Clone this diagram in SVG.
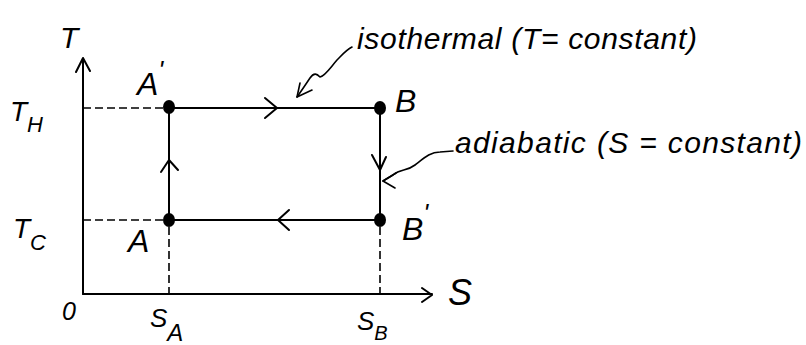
<svg xmlns="http://www.w3.org/2000/svg" width="806" height="345" viewBox="0 0 806 345">
<style>
.ln{stroke:#000;stroke-width:2;fill:none;stroke-linecap:round;stroke-linejoin:round}
.ds{stroke:#000;stroke-width:1.6;fill:none;stroke-dasharray:8 4}
.th{stroke:#000;stroke-width:1.6;fill:none;stroke-linecap:round;stroke-linejoin:round}
.dot{fill:#000}
text{font-family:"Liberation Sans",Arial,sans-serif;font-style:italic;fill:#000}
</style>
<rect width="806" height="345" fill="#fff"/>
<g id="axes">
<path class="ln" d="M83 294 V58 M76 72 L83 58 L90 71"/>
<path class="ln" d="M83 294 H432 M422 288 L432 295 L422 302"/>
<text x="60" y="48" font-size="30">T</text>
<text x="448" y="305" font-size="36">S</text>
<text x="62" y="320" font-size="25">0</text>
</g>
<g id="guides">
<path class="ds" d="M83 108 H163"/>
<path class="ds" d="M83 220 H163"/>
<path class="ds" d="M169 227 V294"/>
<path class="ds" d="M380 227 V294"/>
<text x="10" y="121" font-size="28">T<tspan font-size="22" dy="11">H</tspan></text>
<text x="13" y="238" font-size="28">T<tspan font-size="22" dy="12">C</tspan></text>
<text x="150" y="327" font-size="26">S<tspan font-size="24" dy="14">A</tspan></text>
<text x="357" y="330" font-size="26">S<tspan font-size="20" dy="10">B</tspan></text>
</g>
<g id="connectors">
<path class="ln" d="M169 108 H380"/>
<path class="ln" d="M265 98 L277 108 L265 118"/>
<path class="ln" d="M380 108 V220"/>
<path class="ln" d="M372 155 L380 170 L386 157"/>
<path class="ln" d="M380 220 H169"/>
<path class="ln" d="M289 210 L278 220 L289 230"/>
<path class="ln" d="M169 220 V108"/>
<path class="ln" d="M161 172 L169 160 L178 170"/>
</g>
<g id="node-A-prime">
<ellipse class="dot" cx="169" cy="107" rx="6" ry="7"/>
<text x="137" y="95" font-size="32">A<tspan font-size="26" dy="-16">'</tspan></text>
</g>
<g id="node-B">
<ellipse class="dot" cx="380" cy="108" rx="6" ry="7"/>
<text x="395" y="112" font-size="32">B</text>
</g>
<g id="node-B-prime">
<ellipse class="dot" cx="380" cy="220" rx="6" ry="7"/>
<text x="402" y="240" font-size="32">B<tspan font-size="26" dy="-18">'</tspan></text>
</g>
<g id="node-A">
<ellipse class="dot" cx="169" cy="220" rx="6" ry="7"/>
<text x="128" y="252" font-size="32">A</text>
</g>
<g id="callout-isothermal">
<path class="th" d="M352 47 C346 50 342 55 337 60 C330 68 325 76 320 77 C317 74 314 72 310 78 C306 84 302 90 297 97"/>
<path class="th" d="M300 83 L297 97 L312 90"/>
<text x="357" y="49" font-size="30" textLength="340" lengthAdjust="spacing">isothermal (T= constant)</text>
</g>
<g id="callout-adiabatic">
<path class="th" d="M453 151 L440 152 C430 152 424 158 415 165 C406 172 401 168 393 175 L383 181"/>
<path class="th" d="M396 173 L383 181 L395 188"/>
<text x="455" y="153" font-size="30" textLength="347" lengthAdjust="spacing">adiabatic (S = constant)</text>
</g>
</svg>
